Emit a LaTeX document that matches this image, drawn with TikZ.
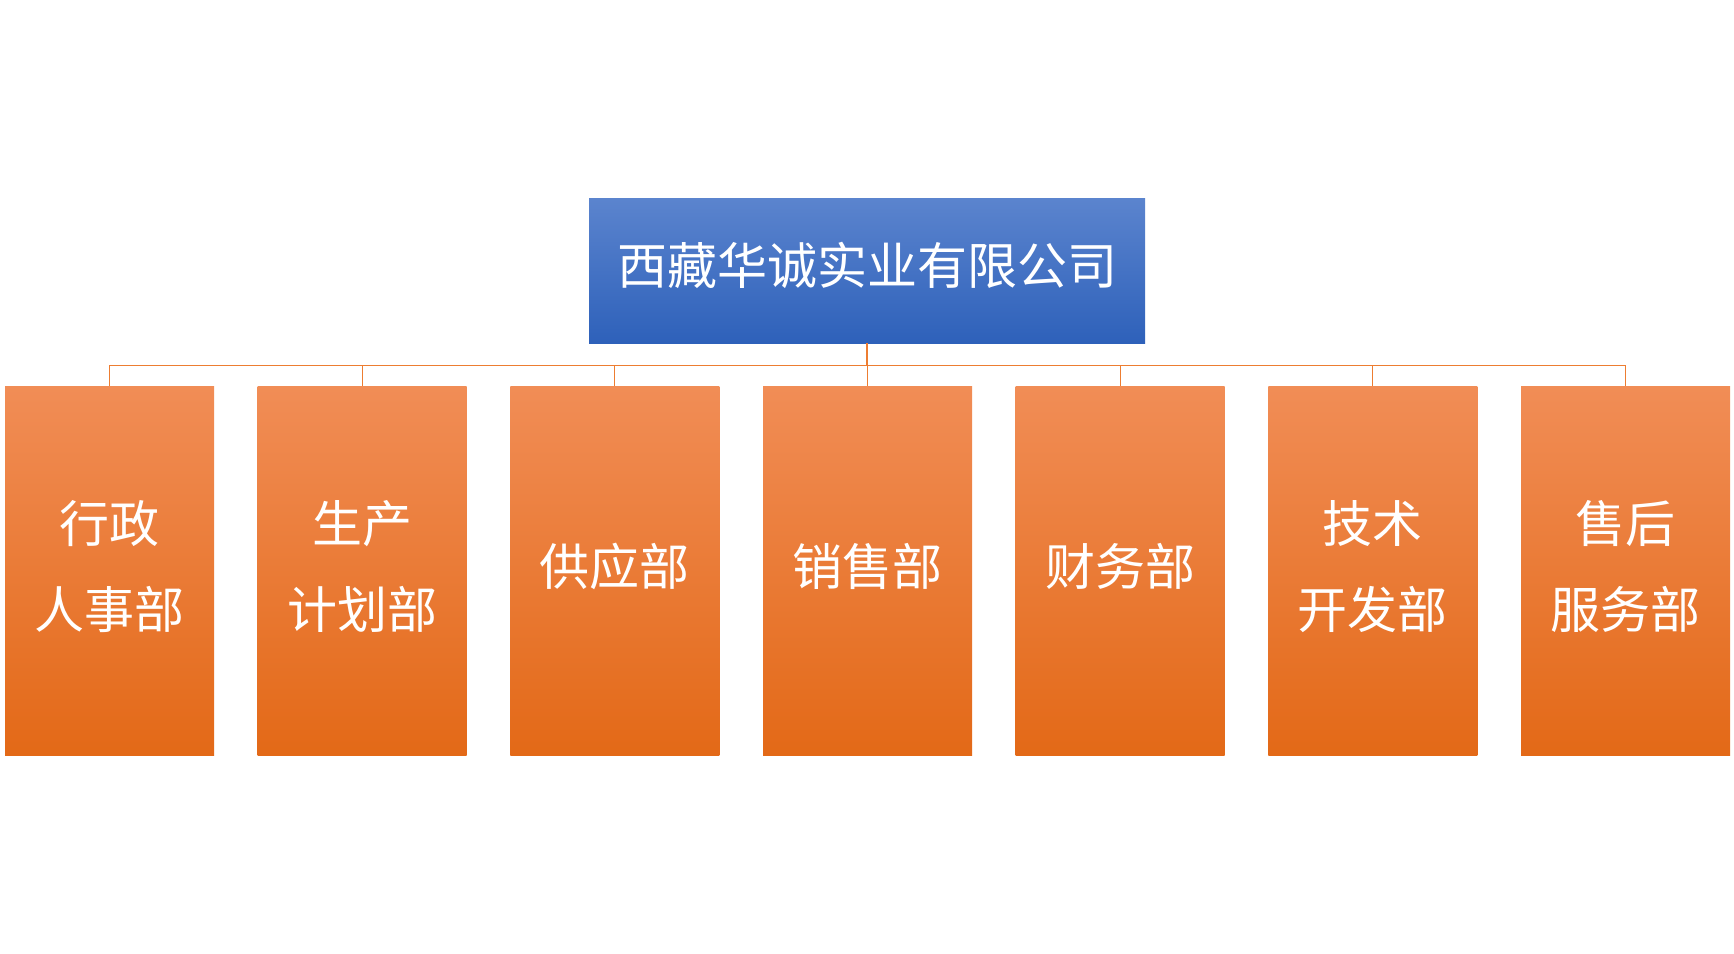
\documentclass[tikz,border=0pt]{standalone}
\usepackage{fontspec}
\newfontfamily\cjk{Noto Sans CJK SC}
\usepackage{tikz}
\usetikzlibrary{calc,positioning}
\definecolor{blueT}{HTML}{5B84CE}
\definecolor{blueB}{HTML}{2E61BA}
\definecolor{orangeT}{HTML}{F18D56}
\definecolor{orangeB}{HTML}{E36917}
\definecolor{linkcol}{HTML}{ED7D31}
\tikzset{
  company/.style={top color=blueT, bottom color=blueB, minimum width=556, minimum height=145, inner sep=0pt, text=white, text depth=15pt, font=\cjk\fontsize{50}{60}\selectfont},
  dept/.style={top color=orangeT, bottom color=orangeB, minimum width=209, minimum height=369, inner sep=0pt, text=white, align=center, text depth=12.5pt, font=\cjk\fontsize{50}{85.5}\selectfont},
  link/.style={draw=linkcol, line width=1.3pt}
}

\begin{document}
\begin{tikzpicture}[x=1pt,y=-1pt]
\useasboundingbox (0,0) rectangle (1734,953);
\node[company] (co) at (867,270.5) {西藏华诚实业有限公司};
\node[dept] (hr) at (109.5,570.5) {行政\\人事部};
\node[dept] (plan) at (362.2,570.5) {生产\\计划部};
\node[dept] (supply) at (614.8,570.5) {供应部};
\node[dept] (sales) at (867.5,570.5) {销售部};
\node[dept] (fin) at (1120.2,570.5) {财务部};
\node[dept] (tech) at (1372.8,570.5) {技术\\开发部};
\node[dept] (service) at (1625.5,570.5) {售后\\服务部};
\draw[link] (co.south) -- ++(0,22) -| (hr.north);
\draw[link] (co.south) -- ++(0,22) -| (plan.north);
\draw[link] (co.south) -- ++(0,22) -| (supply.north);
\draw[link] (co.south) -- ++(0,22) -| (sales.north);
\draw[link] (co.south) -- ++(0,22) -| (fin.north);
\draw[link] (co.south) -- ++(0,22) -| (tech.north);
\draw[link] (co.south) -- ++(0,22) -| (service.north);
\end{tikzpicture}
\end{document}
